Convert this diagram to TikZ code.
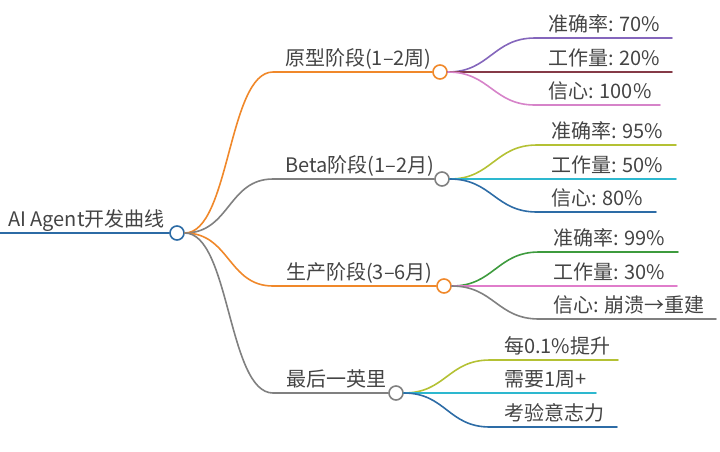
\documentclass[tikz,border=0pt]{standalone}
\usepackage{fontspec}
\setmainfont{Noto Sans CJK SC}
\usetikzlibrary{positioning}
\definecolor{rootblue}{HTML}{2C6BA5}
\definecolor{stageorange}{HTML}{F0882A}
\definecolor{stagegray}{HTML}{808080}
\definecolor{leafpurple}{HTML}{8466BC}
\definecolor{leafmaroon}{HTML}{853A47}
\definecolor{leafpink}{HTML}{D683C9}
\definecolor{leafolive}{HTML}{B4C134}
\definecolor{leafcyan}{HTML}{2DB8CF}
\definecolor{leafblue}{HTML}{2D6CA6}
\definecolor{leafgreen}{HTML}{3E9B3E}
\definecolor{leafmagenta}{HTML}{E07DCB}
\definecolor{textgray}{HTML}{444444}
\tikzstyle{hub} = [circle, draw, fill=white, line width=1.6pt, minimum size=14pt, inner sep=0pt]
\tikzstyle{stagetext} = [anchor=base west, inner sep=0pt, text=textgray, font=\fontsize{20}{22}\selectfont]
\tikzstyle{leaftext} = [anchor=base west, inner sep=0pt, text=textgray, font=\fontsize{20}{22}\selectfont]
\tikzstyle{branch} = [line width=1.6pt, line cap=round]

\begin{document}
\begin{tikzpicture}[x=1pt, y=-1pt]
\useasboundingbox (0,0) rectangle (720,451);

% root
\coordinate (rootend) at (0,233);
\node (root)     [hub, draw=rootblue]     at (177,233) {};
\node (roottext) [stagetext]              at (8,226)   {AI Agent开发曲线};
\draw [branch, rootblue] (rootend) -- (root.west);

% stages
\node (proto) [hub, draw=stageorange] at (440,72)  {};
\node (beta)  [hub, draw=stagegray]   at (442,179) {};
\node (prod)  [hub, draw=stageorange] at (444,286) {};
\node (mile)  [hub, draw=stagegray]   at (396,393) {};
\coordinate (protos) at (273,72);
\coordinate (betas)  at (273,179);
\coordinate (prods)  at (273,286);
\coordinate (miles)  at (273,393);
\node (prototext) [stagetext] at (285,65)  {原型阶段(1–2周)};
\node (betatext)  [stagetext] at (285,172) {Beta阶段(1–2月)};
\node (prodtext)  [stagetext] at (286,279) {生产阶段(3–6月)};
\node (miletext)  [stagetext] at (286,386) {最后一英里};
\draw [branch, stageorange] (root.east) .. controls +(45,0) and +(-45,0) .. (protos) -- (proto.west);
\draw [branch, stagegray]   (root.east) .. controls +(45,0) and +(-45,0) .. (betas)  -- (beta.west);
\draw [branch, stageorange] (root.east) .. controls +(45,0) and +(-45,0) .. (prods)  -- (prod.west);
\draw [branch, stagegray]   (root.east) .. controls +(45,0) and +(-45,0) .. (miles)  -- (mile.west);

% prototype leaves
\coordinate (proto1s) at (535,38);  \coordinate (proto1e) at (672,38);
\coordinate (proto2e) at (672,72);
\coordinate (proto3s) at (535,105); \coordinate (proto3e) at (660,105);
\node (proto1) [leaftext] at (548,31) {准确率: 70\%};
\node (proto2) [leaftext] at (548,65) {工作量: 20\%};
\node (proto3) [leaftext] at (548,98) {信心: 100\%};
\draw [branch, leafpurple] (proto.east) .. controls +(42,0) and +(-42,0) .. (proto1s) -- (proto1e);
\draw [branch, leafmaroon] (proto.east) -- (proto2e);
\draw [branch, leafpink]   (proto.east) .. controls +(42,0) and +(-42,0) .. (proto3s) -- (proto3e);

% beta leaves
\coordinate (beta1s) at (537,145); \coordinate (beta1e) at (676,145);
\coordinate (beta2e) at (676,179);
\coordinate (beta3s) at (537,212); \coordinate (beta3e) at (656,212);
\node (beta1) [leaftext] at (551,138) {准确率: 95\%};
\node (beta2) [leaftext] at (551,172) {工作量: 50\%};
\node (beta3) [leaftext] at (551,205) {信心: 80\%};
\draw [branch, leafolive] (beta.east) .. controls +(42,0) and +(-42,0) .. (beta1s) -- (beta1e);
\draw [branch, leafcyan]  (beta.east) -- (beta2e);
\draw [branch, leafblue]  (beta.east) .. controls +(42,0) and +(-42,0) .. (beta3s) -- (beta3e);

% production leaves
\coordinate (prod1s) at (539,252); \coordinate (prod1e) at (678,252);
\coordinate (prod2e) at (677,286);
\coordinate (prod3s) at (539,319); \coordinate (prod3e) at (716,319);
\node (prod1) [leaftext] at (553,245) {准确率: 99\%};
\node (prod2) [leaftext] at (553,279) {工作量: 30\%};
\node (prod3) [leaftext] at (553,312) {信心: 崩溃→重建};
\draw [branch, leafgreen]   (prod.east) .. controls +(42,0) and +(-42,0) .. (prod1s) -- (prod1e);
\draw [branch, leafmagenta] (prod.east) -- (prod2e);
\draw [branch, stagegray]   (prod.east) .. controls +(42,0) and +(-42,0) .. (prod3s) -- (prod3e);

% last mile leaves
\coordinate (mile1s) at (490,360); \coordinate (mile1e) at (618,360);
\coordinate (mile2e) at (596,393);
\coordinate (mile3s) at (490,427); \coordinate (mile3e) at (617,427);
\node (mile1) [leaftext] at (504,353) {每0.1\%提升};
\node (mile2) [leaftext] at (504,386) {需要1周+};
\node (mile3) [leaftext] at (504,420) {考验意志力};
\draw [branch, leafolive] (mile.east) .. controls +(42,0) and +(-42,0) .. (mile1s) -- (mile1e);
\draw [branch, leafcyan]  (mile.east) -- (mile2e);
\draw [branch, leafblue]  (mile.east) .. controls +(42,0) and +(-42,0) .. (mile3s) -- (mile3e);

\end{tikzpicture}
\end{document}
